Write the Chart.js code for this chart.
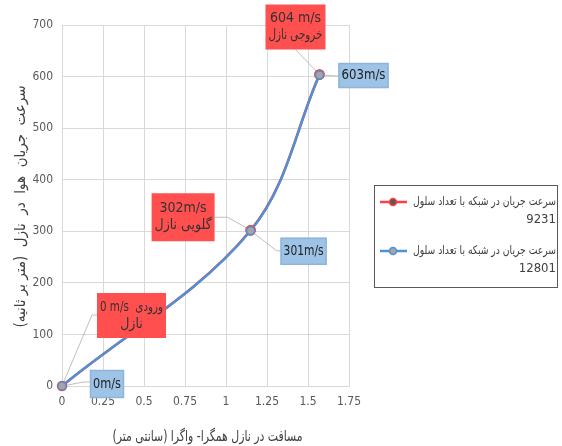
<!DOCTYPE html>
<html>
<head>
<meta charset="utf-8">
<script src="https://cdn.jsdelivr.net/npm/chart.js@4/dist/chart.umd.min.js"></script>
<style>
  html, body { margin: 0; padding: 0; background: #fff; }
  #wrap { width: 562px; height: 446px; position: relative; }
</style>
</head>
<body>
<div id="wrap"><canvas id="chart"></canvas></div>
<script>
const FONT = "'Liberation Sans Narrow', 'DejaVu Sans Condensed', 'DejaVu Sans', sans-serif";
const RLM = '\u200F';

// data
const distance = [0, 1.15, 1.57];
const speed9231 = [0, 302, 604];
const speed12801 = [0, 301, 603];
const seriesNames = ['سرعت جریان در شبکه با تعداد سلول', 'سرعت جریان در شبکه با تعداد سلول'];
const cellCounts = ['9231', '12801'];
const labels9231 = [['0 m/s  ورودی', 'نازل'], ['302m/s', 'گلویی نازل'], ['604 m/s', 'خروجی نازل']];
const labels12801 = [['0m/s'], ['301m/s'], ['603m/s']];
const xTitle = 'مسافت در نازل همگرا- واگرا (سانتی متر)';
const yTitle = 'سرعت  جریان  هوا  در  نازل  (متر بر ثانیه)';

const COLORS = { red: '#ff4040', blue: '#5090d3', redBox: '#ff4f4f', blueBox: '#9dc3e6', grid: '#d9d9d9', tick: '#595959' };

// box layout for each callout, offsets in px from its point: left, top, w, h, leader path
const calloutLayout = [
  [ // 9231
    { l: 35, t: -93, w: 69, h: 45, path: [[30, -71], [35, -71]] },
    { l: -99, t: -37, w: 63, h: 48, path: [[-23, -13], [-36, -13]] },
    { l: -54, t: -70, w: 60, h: 45, path: [[-24, -25]] }
  ],
  [ // 12801
    { l: 28, t: -16, w: 34, h: 28, path: [[22, -4], [28, -4]] },
    { l: 30, t: 7, w: 46, h: 27, path: [[26, 20], [30, 20]] },
    { l: 19, t: -12, w: 50, h: 25, path: [[19, 1]] }
  ]
];

function points(ys) { return distance.map((x, i) => ({ x, y: ys[i] })); }

const callouts = {
  id: 'callouts',
  afterDatasetsDraw(chart) {
    const ctx = chart.ctx;
    const boxes = [];
    [labels9231, labels12801].forEach((lbls, d) => {
      const meta = chart.getDatasetMeta(d);
      lbls.forEach((lines, i) => {
        const el = meta.data[i];
        const L = calloutLayout[d][i];
        const px = el.x, py = el.y;
        ctx.save();
        ctx.strokeStyle = '#bfbfbf';
        ctx.lineWidth = 1;
        ctx.beginPath();
        ctx.moveTo(px, py);
        L.path.forEach(p => ctx.lineTo(px + p[0], py + p[1]));
        ctx.stroke();
        ctx.restore();
        boxes.push({ d, lines, x: px + L.l, y: py + L.t, w: L.w, h: L.h });
      });
    });
    // markers back on top of the leader lines, red first then blue
    [0, 1].forEach(d => chart.getDatasetMeta(d).data.forEach(el => el.draw(ctx, chart.chartArea)));
    boxes.forEach(b => {
      ctx.save();
      ctx.fillStyle = b.d === 0 ? COLORS.redBox : COLORS.blueBox;
      ctx.fillRect(b.x, b.y, b.w, b.h);
      if (b.d === 1) {
        ctx.strokeStyle = '#8fb3d9';
        ctx.strokeRect(b.x + 0.5, b.y + 0.5, b.w - 1, b.h - 1);
      }
      ctx.fillStyle = b.d === 0 ? '#333' : '#222';
      ctx.font = '14px ' + FONT;
      ctx.textAlign = 'center';
      ctx.textBaseline = 'middle';
      const lh = 17;
      const y0 = b.y + b.h / 2 - (b.lines.length - 1) * lh / 2;
      b.lines.forEach((t, k) => ctx.fillText(t, b.x + b.w / 2, y0 + k * lh, b.w - 6));
      ctx.restore();
    });
  }
};

const extras = {
  id: 'extras',
  afterDraw(chart) {
    const ctx = chart.ctx;
    const area = chart.chartArea;
    ctx.save();
    // axis titles
    ctx.fillStyle = '#404040';
    ctx.font = '15px ' + FONT;
    ctx.textAlign = 'center';
    ctx.textBaseline = 'middle';
    ctx.fillText(RLM + xTitle + RLM, (area.left + area.right) / 2 + 2, 437, 190);
    ctx.save();
    ctx.translate(21, (area.top + area.bottom) / 2 + 1);
    ctx.rotate(-Math.PI / 2);
    ctx.fillText(RLM + yTitle + RLM, 0, 0, 242);
    ctx.restore();

    // legend
    ctx.strokeStyle = '#595959';
    ctx.lineWidth = 1;
    ctx.strokeRect(374.5, 185.5, 183, 102);
    const rows = [202, 251];
    const lineCol = [COLORS.red, COLORS.blue];
    const dotFill = ['#595959', '#a5a5a5'];
    rows.forEach((y, i) => {
      ctx.strokeStyle = lineCol[i];
      ctx.lineWidth = 2.5;
      ctx.beginPath();
      ctx.moveTo(380, y); ctx.lineTo(407, y);
      ctx.stroke();
      ctx.beginPath();
      ctx.arc(393, y, 3.5, 0, Math.PI * 2);
      ctx.fillStyle = dotFill[i];
      ctx.fill();
      ctx.lineWidth = 1.5;
      ctx.strokeStyle = lineCol[i];
      ctx.stroke();
      ctx.fillStyle = '#404040';
      ctx.font = '12px ' + FONT;
      ctx.textAlign = 'right';
      ctx.textBaseline = 'middle';
      ctx.fillText(seriesNames[i], 556, y, 143);
      ctx.font = '13px ' + FONT;
      ctx.fillText(cellCounts[i], 556, y + 18);
    });
    ctx.restore();
  }
};

new Chart(document.getElementById('chart'), {
  type: 'scatter',
  data: {
    datasets: [
      { label: seriesNames[0] + ' ' + cellCounts[0], data: points(speed9231), showLine: true, order: 2,
        borderColor: COLORS.red, borderWidth: 2.5, tension: 0.35,
        pointRadius: 4.5, pointBackgroundColor: '#595959', pointBorderColor: COLORS.red, pointBorderWidth: 1.5 },
      { label: seriesNames[1] + ' ' + cellCounts[1], data: points(speed12801), showLine: true, order: 1,
        borderColor: COLORS.blue, borderWidth: 2.5, tension: 0.35,
        pointRadius: 4, pointBackgroundColor: '#a5a5a5', pointBorderColor: COLORS.blue, pointBorderWidth: 1.5 }
    ]
  },
  options: {
    responsive: true,
    maintainAspectRatio: false,
    animation: false,
    layout: { padding: { left: 0, top: 25, right: 213, bottom: 0 } },
    plugins: { legend: { display: false }, tooltip: { enabled: false } },
    scales: {
      x: {
        type: 'linear', min: 0, max: 1.75,
        ticks: { stepSize: 0.25, color: COLORS.tick, font: { family: FONT, size: 12 }, padding: 9, callback: v => String(v) },
        grid: { color: COLORS.grid, drawTicks: false },
        border: { color: COLORS.grid },
        afterFit: s => { s.height = 60; }
      },
      y: {
        min: 0, max: 700,
        ticks: { stepSize: 100, color: COLORS.tick, font: { family: FONT, size: 12 }, padding: 9 },
        grid: { color: COLORS.grid, drawTicks: false },
        border: { color: COLORS.grid },
        afterFit: s => { s.width = 62; }
      }
    }
  },
  plugins: [callouts, extras]
});
</script>
</body>
</html>
